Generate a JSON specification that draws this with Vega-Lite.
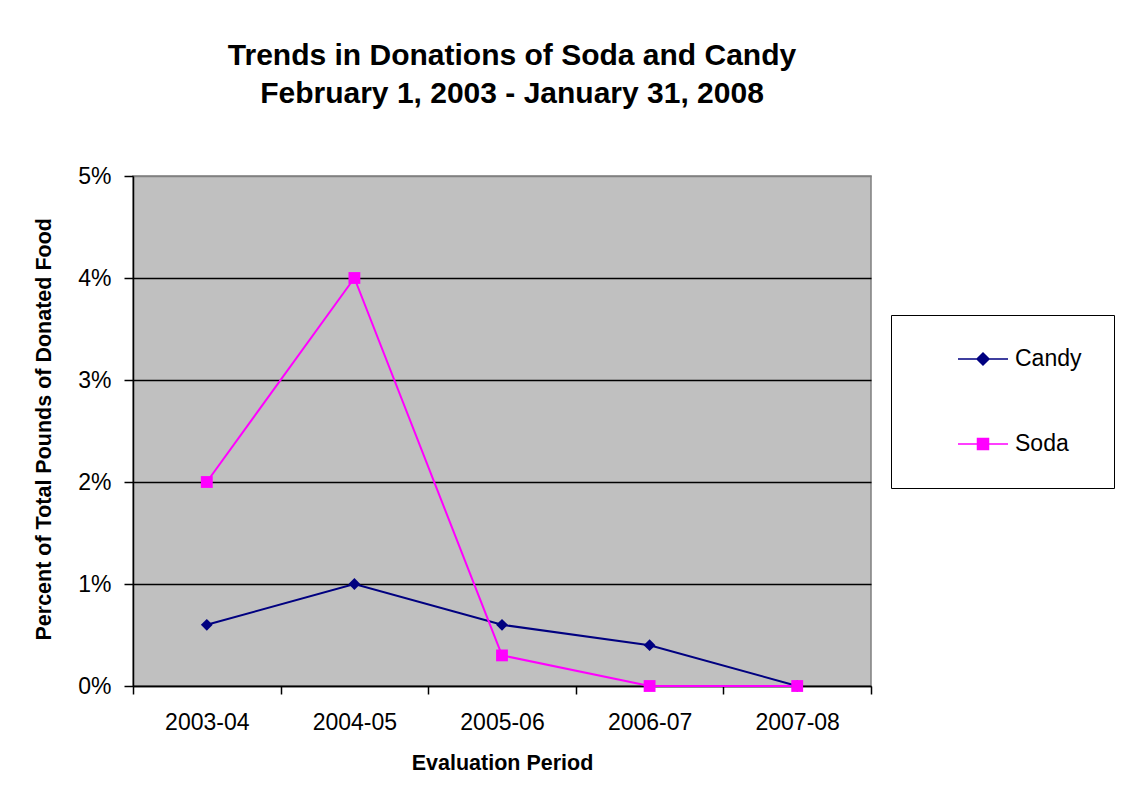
{
  "$schema": "https://vega.github.io/schema/vega-lite/v6.json",
  "width": 738,
  "height": 510,
  "autosize": {"type": "none"},
  "padding": {"left": 133, "top": 176, "right": 267, "bottom": 116},
  "background": "white",
  "title": {
    "text": ["Trends in Donations of Soda and Candy", "February 1, 2003 - January 31, 2008"],
    "font": "Liberation Sans",
    "fontSize": 30,
    "fontWeight": "bold",
    "color": "black",
    "lineHeight": 38,
    "anchor": "middle",
    "dx": 10,
    "offset": 56
  },
  "data": {
    "values": [
      {"period": "2003-04", "series": "Candy", "pct": 0.6},
      {"period": "2004-05", "series": "Candy", "pct": 1.0},
      {"period": "2005-06", "series": "Candy", "pct": 0.6},
      {"period": "2006-07", "series": "Candy", "pct": 0.4},
      {"period": "2007-08", "series": "Candy", "pct": 0.0},
      {"period": "2003-04", "series": "Soda", "pct": 2.0},
      {"period": "2004-05", "series": "Soda", "pct": 4.0},
      {"period": "2005-06", "series": "Soda", "pct": 0.3},
      {"period": "2006-07", "series": "Soda", "pct": 0.0},
      {"period": "2007-08", "series": "Soda", "pct": 0.0}
    ]
  },
  "encoding": {
    "x": {
      "field": "period",
      "type": "nominal",
      "sort": ["2003-04", "2004-05", "2005-06", "2006-07", "2007-08"],
      "scale": {"type": "band", "paddingInner": 0, "paddingOuter": 0},
      "axis": {
        "title": "Evaluation Period",
        "labelAngle": 0,
        "tickBand": "extent",
        "tickSize": 8,
        "tickWidth": 1.5,
        "tickColor": "black",
        "domainColor": "black",
        "domainWidth": 1.5,
        "labelPadding": 17,
        "labelFontSize": 23,
        "labelColor": "black",
        "titleFontSize": 21.5,
        "titleFontWeight": "bold",
        "titleColor": "black",
        "titleBaseline": "alphabetic",
        "titleY": 83,
        "grid": false
      }
    },
    "y": {
      "field": "pct",
      "type": "quantitative",
      "scale": {"domain": [0, 5], "nice": false},
      "axis": {
        "title": "Percent of Total Pounds of Donated Food",
        "values": [0, 1, 2, 3, 4, 5],
        "labelExpr": "datum.value + '%'",
        "tickSize": 9,
        "tickWidth": 1.5,
        "tickColor": "black",
        "domainColor": "black",
        "domainWidth": 1.5,
        "labelPadding": 13,
        "labelFontSize": 23,
        "labelColor": "black",
        "grid": true,
        "gridColor": {"condition": {"test": "datum.value === 5", "value": "#808080"}, "value": "black"},
        "gridWidth": 1.4,
        "titleFontSize": 21.5,
        "titleFontWeight": "bold",
        "titleColor": "black",
        "titleAngle": -90,
        "titleAlign": "left",
        "titleBaseline": "alphabetic",
        "titleX": -83,
        "titleY": 464
      }
    },
    "color": {
      "field": "series",
      "type": "nominal",
      "scale": {"domain": ["Candy", "Soda"], "range": ["#000080", "#FF00FF"]},
      "legend": {
        "title": null,
        "labelExpr": "datum.label + '\u00a0\u00a0\u00a0\u00a0\u00a0\u00a0\u00a0\u00a0'"
      }
    }
  },
  "layer": [
    {
      "mark": {"type": "line", "strokeWidth": 2}
    },
    {
      "mark": {"type": "point", "filled": true, "opacity": 1, "size": 140},
      "encoding": {
        "shape": {
          "condition": {"test": "datum.series === 'Candy'", "value": "diamond"},
          "value": "square"
        }
      }
    },
    {
      "mark": {"type": "point", "filled": true, "size": 0, "strokeWidth": 1.5},
      "encoding": {
        "shape": {
          "field": "series",
          "type": "nominal",
          "scale": {
            "domain": ["Candy", "Soda"],
            "range": [
              "M-2.273,0H2.273M0,-0.545L0.545,0L0,0.545L-0.545,0Z",
              "M-2.273,0H2.273M-0.5,-0.5H0.5V0.5H-0.5Z"
            ]
          },
          "legend": {"title": null}
        },
        "stroke": {
          "field": "series",
          "type": "nominal",
          "scale": {"domain": ["Candy", "Soda"], "range": ["#000080", "#FF00FF"]},
          "legend": {"title": null}
        }
      }
    }
  ],
  "config": {
    "font": "Liberation Sans",
    "view": {"fill": "#C0C0C0", "stroke": "#808080", "strokeWidth": 1.5},
    "legend": {
      "orient": "none",
      "legendX": 758,
      "legendY": 139,
      "strokeColor": "black",
      "fillColor": "white",
      "padding": 32,
      "rowPadding": 61,
      "symbolSize": 484,
      "symbolStrokeWidth": 1.5,
      "symbolOpacity": 1,
      "symbolOffset": 48,
      "labelOffset": 20,
      "labelFontSize": 23,
      "labelColor": "black",
      "labelFont": "Liberation Sans"
    }
  }
}
